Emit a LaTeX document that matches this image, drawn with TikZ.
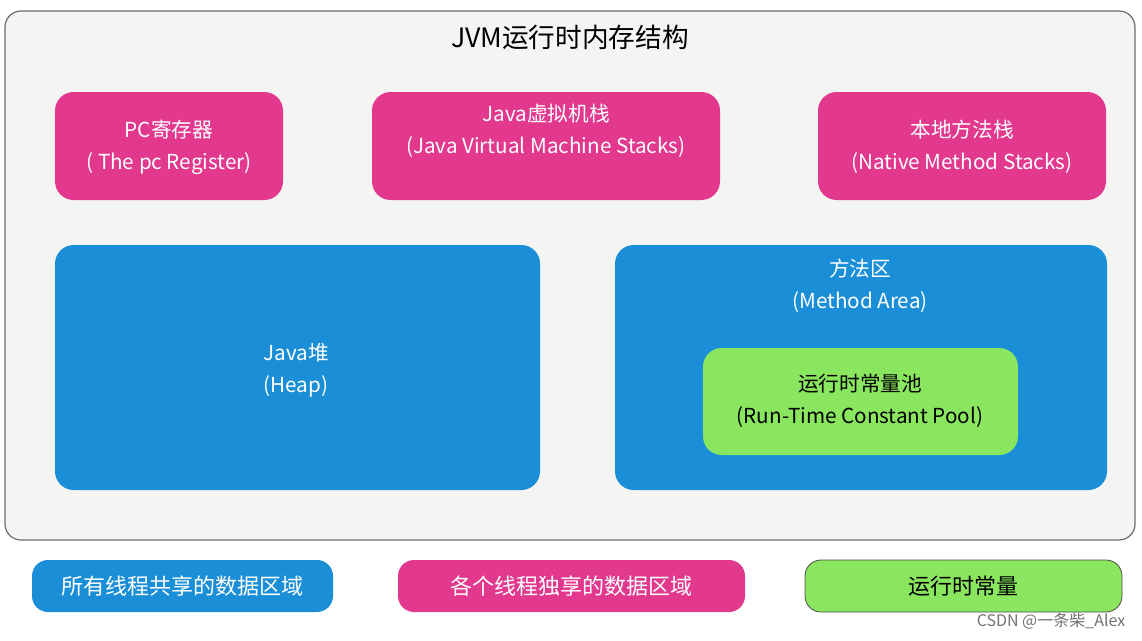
\documentclass[tikz,border=0pt]{standalone}
\usepackage{fontspec}
\setmainfont{Noto Sans CJK SC}
\definecolor{magbox}{HTML}{E2388E}
\definecolor{bluebox}{HTML}{1A8ED6}
\definecolor{greenbox}{HTML}{8AE65E}
\definecolor{outerfill}{HTML}{F4F4F3}
\definecolor{outerline}{HTML}{6E6E6E}
\begin{document}
\begin{tikzpicture}[x=0.75pt,y=-0.75pt,
  region/.style={rounded corners=14pt,draw=none},
  magregion/.style={region,fill=magbox},
  blueregion/.style={region,fill=bluebox},
  greenregion/.style={region,fill=greenbox,draw=black!70,line width=0.6pt},
  lbl/.style={align=center,font=\fontsize{15.5}{24}\selectfont,text=white},
  lbldark/.style={lbl,text=black},
  legendlbl/.style={font=\fontsize{16.5}{20}\selectfont}]
\useasboundingbox (0,0) rectangle (1142,640);
\fill[white] (0,0) rectangle (1142,640);
% outer frame
\draw[outerline,fill=outerfill,line width=0.9pt,rounded corners=12pt] (5,11) rectangle (1135,540);
\node (title) at (570,37) {\fontsize{20}{24}\selectfont JVM运行时内存结构};
% thread-private regions
\fill[magregion] (55,92) rectangle (283,200);
\node[lbl] (pc) at (169,147) {PC寄存器\\( The pc Register)};
\fill[magregion] (372,92) rectangle (720,200);
\node[lbl] (jvms) at (546,131) {Java虚拟机栈\\(Java Virtual Machine Stacks)};
\fill[magregion] (818,92) rectangle (1106,200);
\node[lbl] (nms) at (962,147) {本地方法栈\\(Native Method Stacks)};
% shared regions
\fill[blueregion] (55,245) rectangle (540,490);
\node[lbl] (heap) at (296,370) {Java堆\\(Heap)};
\fill[blueregion] (615,245) rectangle (1107,490);
\node[lbl] (ma) at (860,286) {方法区\\(Method Area)};
\fill[region,fill=greenbox] (703,348) rectangle (1018,455);
\node[lbldark] (rcp) at (860,401) {运行时常量池\\(Run-Time Constant Pool)};
% legend
\fill[blueregion,rounded corners=12pt] (32,560) rectangle (333,612);
\node[lbl,legendlbl] (lg1) at (182,586) {所有线程共享的数据区域};
\fill[magregion,rounded corners=12pt] (398,560) rectangle (745,612);
\node[lbl,legendlbl] (lg2) at (571,586) {各个线程独享的数据区域};
\draw[greenregion,rounded corners=12pt] (805,560) rectangle (1122,612);
\node[lbldark,legendlbl] (lg3) at (963,586) {运行时常量};
% watermark
\node[anchor=east,text=black!55,font=\fontsize{12}{14}\selectfont] (wm) at (1130,621) {CSDN @一条柴\_Alex};
\end{tikzpicture}
\end{document}
